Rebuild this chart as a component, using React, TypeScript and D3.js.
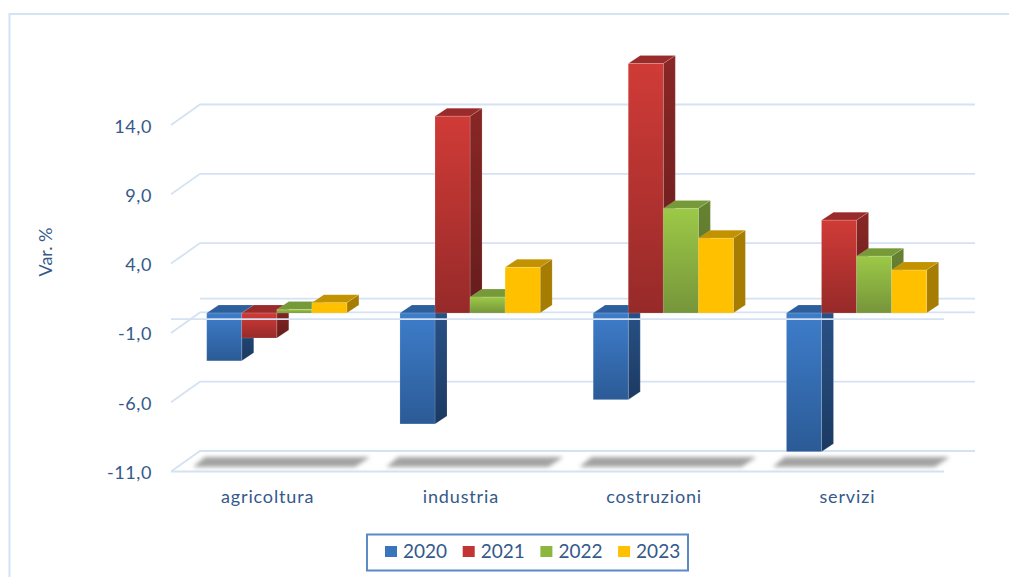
import React from "react";
import * as d3 from "d3";

const categories = ["agricoltura", "industria", "costruzioni", "servizi"];
const years = ["2020", "2021", "2022", "2023"];
const values2020 = [-3.45, -8.0, -6.25, -10.0];
const values2021 = [-1.8, 14.2, 18.0, 6.7];
const values2022 = [0.25, 1.15, 7.55, 4.1];
const values2023 = [0.75, 3.3, 5.4, 3.1];
const seriesValues = [values2020, values2021, values2022, values2023];
const yTicks = [-11, -6, -1, 4, 9, 14];

const FONT = "Lato, 'Open Sans', sans-serif";
const TEXT = "#35598a";
const GRID = "#d5e2f3";

type Palette = { top: string; bottom: string; sideTop: string; sideBottom: string; cap: string; swatch: string };
const palettes: Palette[] = [
  { top: "#3e7dcb", bottom: "#2b5b96", sideTop: "#2a5288", sideBottom: "#1b3a62", cap: "#2c5f9b", swatch: "#3a74bb" },
  { top: "#d03b37", bottom: "#962a29", sideTop: "#892725", sideBottom: "#651c1c", cap: "#9a2b2b", swatch: "#c23533" },
  { top: "#9cc947", bottom: "#76953a", sideTop: "#668331", sideBottom: "#587029", cap: "#769a38", swatch: "#8db63f" },
  { top: "#ffc000", bottom: "#ffc000", sideTop: "#a67d00", sideBottom: "#a67d00", cap: "#c29200", swatch: "#ffc000" },
];

// Oblique projection: the back wall sits up and to the right of the front plane.
const WALL_DX = 29;
const WALL_DY = 20.5;
const BAR_DX = 12;
const BAR_DY = 8;
const BAR_PLANE_X = 8.5;
const BAR_PLANE_Y = 6;

const frontLeft = 171;
const frontRight = 944;

const yFront = d3.scaleLinear().domain([-11, 14]).range([471.5, 125]);
const xCategory = d3.scaleBand<string>().domain(categories).range([frontLeft, frontRight]);
const xSeries = d3.scaleBand<string>().domain(years).range([27.2, 167.4]);

const pts = (p: [number, number][]) => p.map((q) => q.join(",")).join(" ");

function Bar({ cat, s, value }: { cat: string; s: number; value: number }) {
  const x0 = xCategory(cat)! + BAR_PLANE_X + xSeries(years[s])!;
  const x1 = x0 + xSeries.bandwidth();
  const yZero = yFront(0) - BAR_PLANE_Y;
  const yValue = yFront(value) - BAR_PLANE_Y;
  const yTop = Math.min(yZero, yValue);
  const yBottom = Math.max(yZero, yValue);
  const halo = { stroke: "#ffffff", strokeOpacity: 0.18, strokeWidth: 0.8 };
  return (
    <g>
      <polygon
        points={pts([[x0, yTop], [x0 + BAR_DX, yTop - BAR_DY], [x1 + BAR_DX, yTop - BAR_DY], [x1, yTop]])}
        fill={palettes[s].cap}
        {...halo}
      />
      <polygon
        points={pts([[x1, yTop], [x1 + BAR_DX, yTop - BAR_DY], [x1 + BAR_DX, yBottom - BAR_DY], [x1, yBottom]])}
        fill={`url(#side-${s})`}
        {...halo}
      />
      <rect x={x0} y={yTop} width={x1 - x0} height={yBottom - yTop} fill={`url(#front-${s})`} {...halo} />
    </g>
  );
}

export default function App() {
  const wallRight = frontRight + WALL_DX + 2;
  const floorShadowTop = 457;
  const floorShadowBottom = 467;
  return (
    <svg
      width={1009}
      height={577}
      viewBox="0 0 1009 577"
      style={{ position: "absolute", left: 0, top: 0, background: "#fff" }}
    >
      <defs>
        {palettes.map((p, i) => (
          <React.Fragment key={i}>
            <linearGradient id={`front-${i}`} x1="0" y1="0" x2="0" y2="1">
              <stop offset="0" stopColor={p.top} />
              <stop offset="1" stopColor={p.bottom} />
            </linearGradient>
            <linearGradient id={`side-${i}`} x1="0" y1="0" x2="0" y2="1">
              <stop offset="0" stopColor={p.sideTop} />
              <stop offset="1" stopColor={p.sideBottom} />
            </linearGradient>
          </React.Fragment>
        ))}
        <filter id="floor-shadow" x="-10%" y="-80%" width="120%" height="260%">
          <feGaussianBlur stdDeviation="2" />
        </filter>
      </defs>

      {/* chart area border */}
      <path d="M9.5 577V14H1009" fill="none" stroke={GRID} strokeWidth={2} />

      {/* value gridlines running along the back wall, with stubs on the side wall */}
      {yTicks.map((t) => (
        <polyline
          key={t}
          points={pts([
            [frontLeft, yFront(t)],
            [frontLeft + WALL_DX, yFront(t) - WALL_DY],
            [wallRight, yFront(t) - WALL_DY],
          ])}
          fill="none"
          stroke={GRID}
          strokeWidth={1.8}
        />
      ))}
      <line x1={frontLeft + WALL_DX} x2={wallRight} y1={yFront(0) - WALL_DY} y2={yFront(0) - WALL_DY} stroke={GRID} strokeWidth={1.8} />
      <line x1={frontLeft} x2={frontRight} y1={yFront(-11)} y2={yFront(-11)} stroke={GRID} strokeWidth={1.8} />

      {/* blurred shadows under each category */}
      {categories.map((c) => {
        const x = xCategory(c)!;
        return (
          <polygon
            key={c}
            filter="url(#floor-shadow)"
            fill="#a3a3a3"
            points={pts([
              [x + 34, floorShadowTop],
              [x + 199, floorShadowTop],
              [x + 184, floorShadowBottom],
              [x + 22, floorShadowBottom],
            ])}
          />
        );
      })}

      {categories.map((c, ci) => (
        <g key={c}>
          {years.map((_, s) => (
            <Bar key={s} cat={c} s={s} value={seriesValues[s][ci]} />
          ))}
        </g>
      ))}

      {/* front edge of the zero plane, seen through the bars */}
      <line x1={frontLeft} x2={frontRight} y1={yFront(0)} y2={yFront(0)} stroke={GRID} strokeWidth={1.8} />

      {yTicks.map((t) => (
        <text
          key={t}
          x={152}
          y={yFront(t) + 7.5}
          textAnchor="end"
          fontFamily={FONT}
          fontSize={18}
          letterSpacing={0.6}
          fill={TEXT}
        >
          {t.toFixed(1).replace(".", ",")}
        </text>
      ))}

      <text
        transform="translate(52,252) rotate(-90)"
        textAnchor="middle"
        fontFamily={FONT}
        fontSize={18}
        fill={TEXT}
      >
        Var. %
      </text>

      {categories.map((c) => (
        <text
          key={c}
          x={xCategory(c)! + xCategory.bandwidth() / 2}
          y={503}
          textAnchor="middle"
          fontFamily={FONT}
          fontSize={18}
          letterSpacing={0.85}
          fill={TEXT}
        >
          {c}
        </text>
      ))}

      {/* legend */}
      <rect x={367} y={534.5} width={321} height={36} fill="#fff" stroke="#5b8ac4" strokeWidth={2} />
      {years.map((y, i) => {
        const lx = 385 + i * 77.7;
        return (
          <g key={y}>
            <rect x={lx} y={546} width={12} height={11} fill={palettes[i].swatch} />
            <text x={lx + 18} y={558} fontFamily={FONT} fontSize={19} fill={TEXT}>
              {y}
            </text>
          </g>
        );
      })}
    </svg>
  );
}
